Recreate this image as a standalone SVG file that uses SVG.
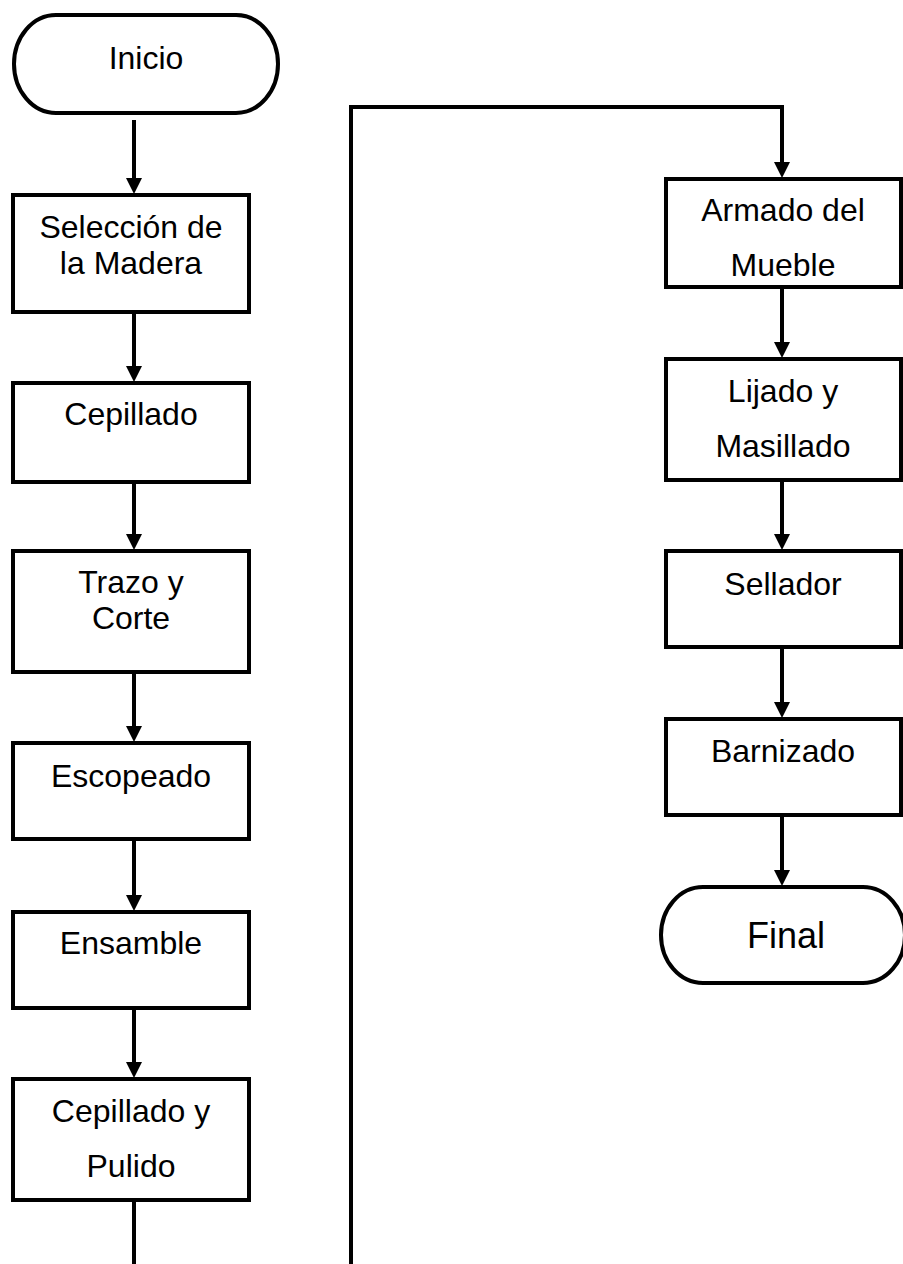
<svg xmlns="http://www.w3.org/2000/svg" width="903" height="1264" viewBox="0 0 903 1264">
<style>
.box{fill:#fff;stroke:#000;stroke-width:4}
.t{font-family:"Liberation Sans",Arial,sans-serif;font-size:32px;fill:#000;text-anchor:middle}
.big{font-size:36px}
.c{fill:none;stroke:#000;stroke-width:4}
</style>
<defs>
<marker id="ah" viewBox="0 0 16 16" refX="0" refY="8" markerWidth="16" markerHeight="16" markerUnits="userSpaceOnUse" orient="auto">
<path d="M0,0 L16,8 L0,16 z" fill="#000"/>
</marker>
</defs>
<rect width="903" height="1264" fill="#fff"/>
<g id="connectors">
<path class="c" d="M134,120 V178" marker-end="url(#ah)"/>
<path class="c" d="M134,312 V366" marker-end="url(#ah)"/>
<path class="c" d="M134,482 V534" marker-end="url(#ah)"/>
<path class="c" d="M134,672 V726" marker-end="url(#ah)"/>
<path class="c" d="M134,839 V895" marker-end="url(#ah)"/>
<path class="c" d="M134,1008 V1062" marker-end="url(#ah)"/>
<path class="c" d="M134,1200 V1264"/>
<path class="c" d="M351,1264 V107 H782 V162" marker-end="url(#ah)"/>
<path class="c" d="M782,287 V342" marker-end="url(#ah)"/>
<path class="c" d="M782,480 V534" marker-end="url(#ah)"/>
<path class="c" d="M782,647 V702" marker-end="url(#ah)"/>
<path class="c" d="M782,815 V870" marker-end="url(#ah)"/>
</g>
<g id="inicio">
<rect class="box" x="14" y="15" width="264" height="98" rx="42" ry="49"/>
<text class="t" x="146" y="69">Inicio</text>
</g>
<g id="seleccion">
<rect class="box" x="13" y="195" width="236" height="117"/>
<text class="t" x="131" y="238">Selección de</text>
<text class="t" x="131" y="274">la Madera</text>
</g>
<g id="cepillado">
<rect class="box" x="13" y="383" width="236" height="99"/>
<text class="t" x="131" y="425">Cepillado</text>
</g>
<g id="trazo">
<rect class="box" x="13" y="551" width="236" height="121"/>
<text class="t" x="131" y="593">Trazo y</text>
<text class="t" x="131" y="629">Corte</text>
</g>
<g id="escopeado">
<rect class="box" x="13" y="743" width="236" height="96"/>
<text class="t" x="131" y="787">Escopeado</text>
</g>
<g id="ensamble">
<rect class="box" x="13" y="912" width="236" height="96"/>
<text class="t" x="131" y="954">Ensamble</text>
</g>
<g id="pulido">
<rect class="box" x="13" y="1079" width="236" height="121"/>
<text class="t" x="131" y="1122">Cepillado y</text>
<text class="t" x="131" y="1177">Pulido</text>
</g>
<g id="armado">
<rect class="box" x="666" y="179" width="235" height="108"/>
<text class="t" x="783" y="221">Armado del</text>
<text class="t" x="783" y="276">Mueble</text>
</g>
<g id="lijado">
<rect class="box" x="666" y="359" width="235" height="121"/>
<text class="t" x="783" y="402">Lijado y</text>
<text class="t" x="783" y="457">Masillado</text>
</g>
<g id="sellador">
<rect class="box" x="666" y="551" width="235" height="96"/>
<text class="t" x="783" y="595">Sellador</text>
</g>
<g id="barnizado">
<rect class="box" x="666" y="719" width="235" height="96"/>
<text class="t" x="783" y="762">Barnizado</text>
</g>
<g id="final">
<rect class="box" x="661" y="887" width="244" height="96" rx="42" ry="48"/>
<text class="t big" x="786" y="948">Final</text>
</g>
</svg>
